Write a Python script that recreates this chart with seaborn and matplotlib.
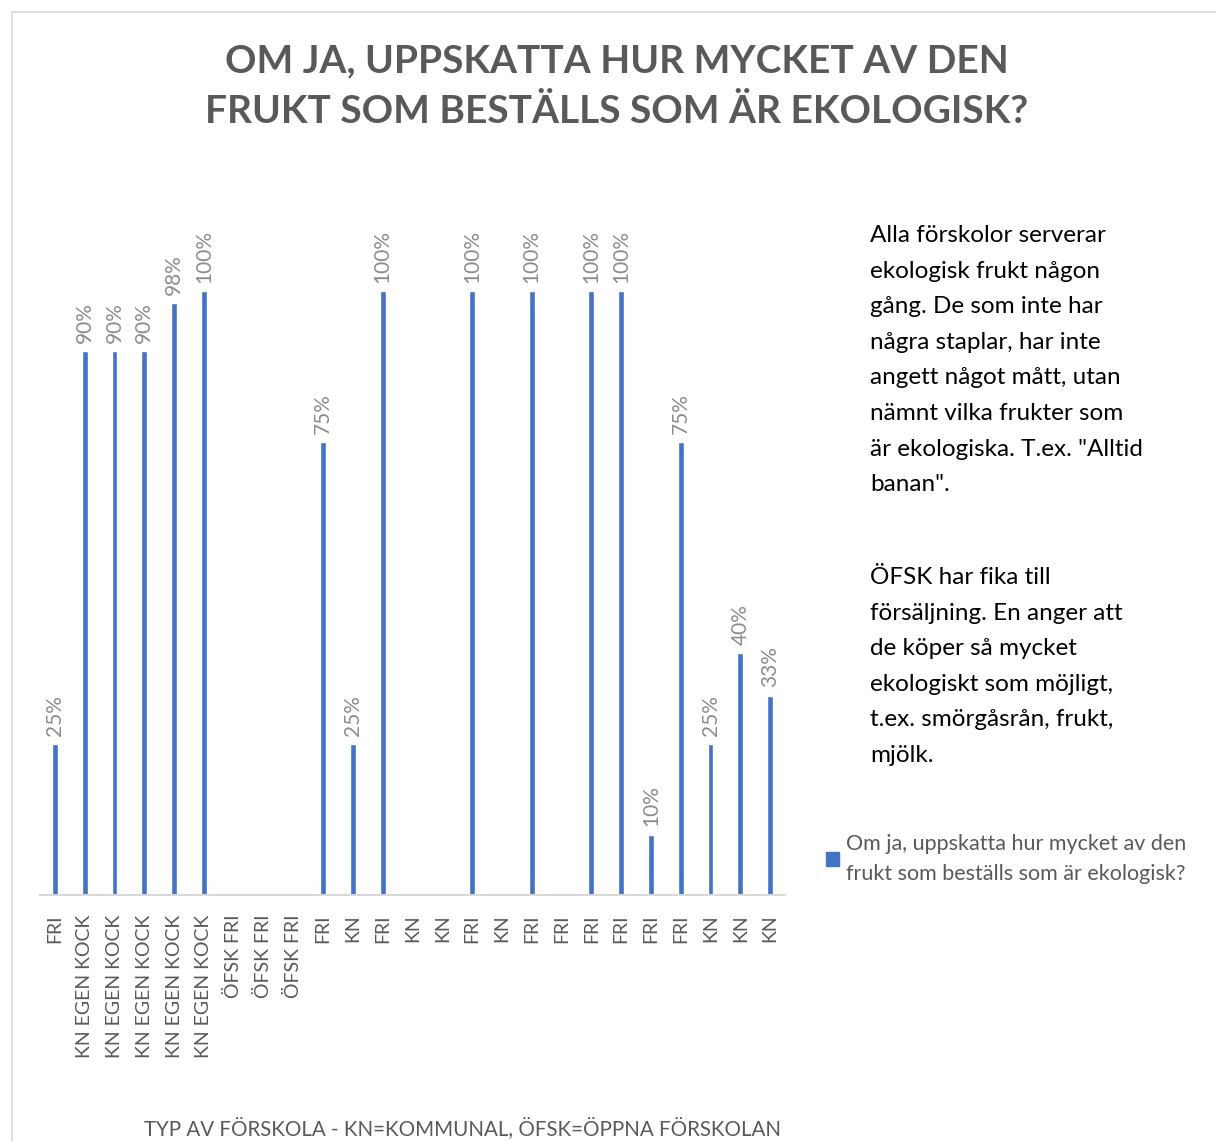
import matplotlib
matplotlib.use("Agg")
import numpy as np
import pandas as pd
import matplotlib.pyplot as plt
import matplotlib.patches as mpatches
import seaborn as sns

# data
kategorier = ["FRI", "KN EGEN KOCK", "KN EGEN KOCK", "KN EGEN KOCK", "KN EGEN KOCK",
              "KN EGEN KOCK", "ÖFSK FRI", "ÖFSK FRI", "ÖFSK FRI", "FRI", "KN", "FRI",
              "KN", "KN", "FRI", "KN", "FRI", "FRI", "FRI", "FRI", "FRI", "FRI",
              "KN", "KN", "KN"]
andel = [0.25, 0.90, 0.90, 0.90, 0.98, 1.00, np.nan, np.nan, np.nan, 0.75, 0.25, 1.00,
         np.nan, np.nan, 1.00, np.nan, 1.00, np.nan, 1.00, 1.00, 0.10, 0.75, 0.25, 0.40, 0.33]
serie_namn = "Om ja, uppskatta hur mycket av den\nfrukt som beställs som är ekologisk?"
titel = "OM JA, UPPSKATTA HUR MYCKET AV DEN\nFRUKT SOM BESTÄLLS SOM ÄR EKOLOGISK?"
x_titel = "TYP AV FÖRSKOLA - KN=KOMMUNAL, ÖFSK=ÖPPNA FÖRSKOLAN"
text_1 = ("Alla förskolor serverar\nekologisk frukt någon\ngång. De som inte har\n"
          "några staplar, har inte\nangett något mått, utan\nnämnt vilka frukter som\n"
          "är ekologiska. T.ex. \"Alltid\nbanan\".")
text_2 = ("ÖFSK har fika till\nförsäljning. En anger att\nde köper så mycket\n"
          "ekologiskt som möjligt,\nt.ex. smörgåsrån, frukt,\nmjölk.")

BLA = "#4472C4"
GRA = "#595959"

sns.set_style("white")
plt.rcParams["font.family"] = ["Lato", "DejaVu Sans"]

W, H = 1216, 1141
fig = plt.figure(figsize=(W / 100, H / 100), dpi=100)

# light frame round the chart area
fig.patches.append(mpatches.Rectangle((12 / W, -0.05), 1.2, 1 - 12 / H + 0.05,
                                      transform=fig.transFigure, fill=False,
                                      edgecolor="#D9D9D9", linewidth=1.2))

ax = fig.add_axes([40 / W, 246 / H, 745 / W, 604 / H])
df = pd.DataFrame({"pos": np.arange(len(kategorier)), "andel": andel})
df_bar = df.dropna()
sns.barplot(data=df_bar, x="pos", y="andel", order=list(range(len(kategorier))),
            color=BLA, saturation=1, width=0.2, ax=ax)

ax.set_ylim(0, 1)
ax.set_xlim(-0.5, len(kategorier) - 0.5)
for s in ["top", "right", "left"]:
    ax.spines[s].set_visible(False)
ax.spines["bottom"].set_color("#D9D9D9")
ax.spines["bottom"].set_linewidth(1.5)
ax.set_yticks([])
ax.set_xticks(range(len(kategorier)))
ax.set_xticklabels(kategorier, rotation=90, fontsize=14, color=GRA, va="top")
ax.tick_params(axis="x", length=0, pad=14)
ax.set_xlabel("")
ax.set_ylabel("")

etiketter = [f"{v:.0%}" for v in df_bar["andel"]]
ax.bar_label(ax.containers[0], labels=etiketter, rotation=90, padding=6,
             fontsize=15, color="#8C8C8C", clip_on=False)

fig.text(617 / W, 1 - 86 / H, titel, ha="center", va="center", fontsize=28,
         fontweight="bold", color=GRA, linespacing=1.52)

fig.text(463 / W, 1 - 1128 / H, x_titel, ha="center", va="center", fontsize=14.8, color=GRA)

fig.text(870 / W, 1 - 225 / H, text_1, ha="left", va="top", fontsize=17.5,
         color="black", linespacing=1.86)
fig.text(870 / W, 1 - 567 / H, text_2, ha="left", va="top", fontsize=17.5,
         color="black", linespacing=1.86)

leg = fig.legend(handles=[mpatches.Patch(color=BLA, label=serie_namn)],
                 loc="upper left", bbox_to_anchor=(826 / W, 1 - 834 / H),
                 frameon=False, fontsize=15.5, labelcolor=GRA, handlelength=0.6,
                 handleheight=0.6, handletextpad=0.35, borderaxespad=0, borderpad=0)
for t in leg.get_texts():
    t.set_linespacing(1.6)

fig.savefig("out.png", dpi=100, facecolor="white")
